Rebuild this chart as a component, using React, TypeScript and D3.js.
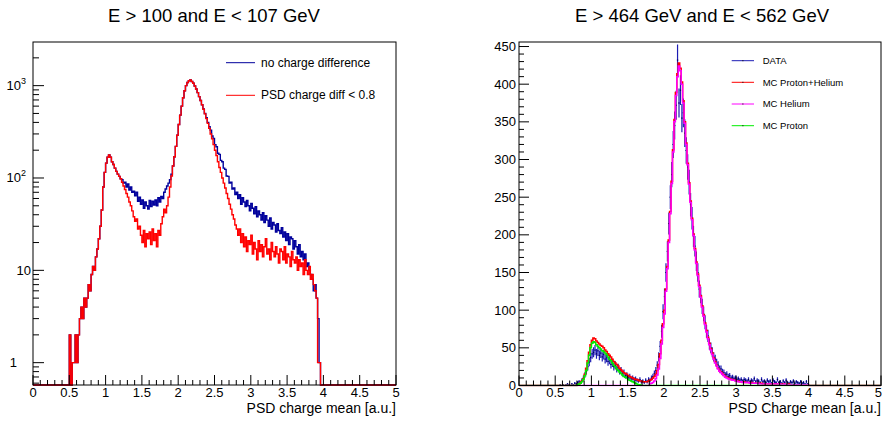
import React from "react";
import * as d3 from "d3";

// ---------- data (bin width 0.02) ----------
const BIN = 0.02;
const NBINS = 250; // 0..5

// Left panel: E > 100 and E < 107 GeV (log y)
const leftStart = 0.5;
// bins 0.50 .. 1.20 identical for both selections
const leftCommon = [2, 0, 1, 1, 2, 1, 2, 3, 4, 3, 5, 4, 5, 7, 6, 9, 11, 10, 14, 17, 22, 30, 45, 80, 115, 145, 168, 178, 168, 150, 140, 128, 118, 110, 104, 98];
// bins 1.22 .. 3.98
const noChargeDiffTail = [
  96, 88, 90, 80, 86, 74, 80, 70, 72, 64,
  70, 56, 62, 52, 58, 47, 55, 50, 46, 57,
  49, 56, 51, 58, 50, 61, 55, 63, 60, 70,
  76, 82, 88, 96, 110, 135, 170, 220, 290, 380,
  480, 600, 740, 880, 1000, 1080, 1130, 1150, 1110, 1060,
  990, 920, 840, 760, 690, 620, 560, 500, 450, 400,
  360, 330, 285, 268, 230, 218, 185, 180, 155, 150,
  128, 124, 105, 104, 88, 90, 76, 78, 66, 70,
  60, 66, 52, 61, 55, 49, 57, 50, 44, 53,
  47, 41, 49, 38, 44, 40, 35, 42, 33, 39,
  35, 30, 37, 28, 33, 31, 26, 32, 27, 25,
  29, 23, 26, 21, 25, 19, 23, 22, 17, 21,
  18, 15, 19, 14, 16, 13, 15, 11, 12, 10,
  9, 8, 6, 7, 5, 3, 1, 0, 0,
];
const psdDiffTail = [
  90, 82, 75, 68, 62, 55, 50, 44, 38, 34,
  36, 28, 30, 24, 20, 27, 18, 25, 22, 26,
  19, 28, 21, 25, 18, 27, 24, 32, 38, 46,
  42, 50, 62, 80, 105, 135, 170, 220, 290, 380,
  480, 600, 740, 880, 1000, 1080, 1130, 1150, 1110, 1060,
  990, 920, 840, 760, 690, 620, 555, 495, 440, 390,
  345, 300, 265, 230, 200, 175, 150, 130, 115, 100,
  88, 78, 68, 60, 52, 46, 40, 36, 31, 28,
  24, 28, 20, 25, 18, 23, 16, 21, 19, 24,
  15, 20, 17, 13, 21, 16, 19, 14, 18, 22,
  15, 17, 13, 20, 16, 14, 18, 15, 12, 17,
  16, 13, 18, 12, 15, 14, 11, 16, 13, 12,
  14, 10, 13, 11, 12, 9, 13, 10, 9, 11,
  8, 9, 7, 6, 5, 1, 1, 0, 0,
];

// Right panel: E > 464 GeV and E < 562 GeV (linear y)
const dataStart = 0.0;
const dataCounts = [
  0, 0, 0, 0, 0, 0, 0, 0, 0, 0,
  0, 0, 0, 0, 0, 0, 0, 0, 0, 0,
  0, 0, 0, 0, 0, 0, 0, 0, 1, 0,
  1, 0, 1, 2, 1, 0, 2, 1, 3, 2,
  4, 5, 4, 7, 10, 14, 19, 25, 31, 37,
  42, 44, 47, 42, 46, 40, 43, 38, 41, 35,
  37, 32, 34, 28, 30, 25, 27, 22, 24, 19,
  20, 16, 17, 13, 14, 11, 12, 9, 10, 8,
  9, 7, 6, 8, 5, 6, 4, 7, 5, 8,
  7, 10, 12, 16, 20, 27, 38, 52, 72, 98,
  118, 150, 178, 215, 250, 280, 320, 345, 372, 432,
  375, 392, 355, 362, 335, 312, 290, 270, 240, 222,
  198, 185, 165, 150, 128, 120, 105, 95, 84, 72,
  66, 55, 50, 44, 38, 35, 30, 27, 22, 22,
  18, 17, 14, 15, 12, 13, 10, 11, 9, 10,
  8, 9, 7, 8, 6, 8, 7, 6, 8, 5,
  7, 6, 9, 5, 7, 6, 4, 8, 5, 6,
  4, 7, 5, 6, 3, 7, 5, 4, 8, 4,
  5, 3, 6, 4, 7, 4, 3, 5, 4, 6,
  3, 5, 4, 3, 5, 3, 4, 2, 5, 2,
];
const mcSumStart = 0.8;
const mcProtonHelium = [
  1, 2, 4, 6, 9, 15, 23, 33, 44, 54,
  60, 63, 62, 59, 57, 55, 53, 52, 50, 47,
  45, 42, 40, 38, 35, 32, 30, 28, 26, 23,
  21, 19, 17, 16, 15, 13, 12, 11, 10, 9,
  8, 8, 7, 6, 6, 5, 5, 5, 5, 6,
  7, 8, 10, 12, 15, 20, 28, 42, 60, 82,
  100, 128, 158, 193, 231, 271, 313, 353, 389, 414,
  428, 421, 403, 378, 350, 322, 295, 269, 245, 222,
  201, 182, 164, 148, 133, 119, 106, 94, 83, 73,
  64, 56, 49, 43, 37, 32, 27, 23, 20, 18,
  16, 14, 12, 11, 10, 9, 8, 8, 7, 7,
  6, 6, 5, 5, 5, 5, 4, 4, 4, 4,
  4, 3, 3, 3, 3, 3, 3, 3, 2, 2,
  2, 2, 2, 2, 2, 2, 2, 2, 2, 2,
  2, 2, 1, 2, 1, 1, 2, 1, 1, 1,
  1, 1, 1, 1, 1, 1, 1, 1, 1, 1,
];
const mcHeliumStart = 1.8;
const mcHelium = [
  2, 3, 4, 6, 9, 14, 22, 36, 55, 77,
  95, 125, 155, 190, 228, 268, 310, 350, 385, 410,
  424, 418, 400, 375, 348, 320, 293, 267, 243, 220,
  199, 180, 162, 146, 131, 117, 104, 92, 81, 71,
  62, 54, 47, 41, 35, 30, 26, 22, 19, 17,
  15, 13, 11, 10, 9, 8, 8, 7, 7, 6,
  6, 5, 5, 5, 4, 4, 4, 4, 4, 3,
  3, 3, 3, 3, 3, 3, 2, 2, 2, 2,
  2, 2, 2, 2, 2, 2, 2, 2, 2, 2,
  2, 1, 1, 2, 1, 1, 1, 1, 1, 1,
  1, 1, 1, 1, 1, 1, 1, 1, 1, 1,
];
const mcProtonStart = 0.8;
const mcProton = [
  1, 2, 3, 5, 8, 13, 20, 30, 40, 50,
  56, 58, 57, 54, 52, 50, 48, 46, 45, 43,
  41, 38, 35, 33, 30, 27, 25, 22, 20, 18,
  16, 14, 12, 11, 10, 8, 7, 6, 5, 4,
  3, 2, 1, 1, 0, 0, 0, 0, 0, 0,
];

const xTickValues = [0, 0.5, 1, 1.5, 2, 2.5, 3, 3.5, 4, 4.5, 5];
const xTickLabels = ["0", "0.5", "1", "1.5", "2", "2.5", "3", "3.5", "4", "4.5", "5"];
const leftYTicks = [1, 10, 100, 1000];
const rightYTicks = [0, 50, 100, 150, 200, 250, 300, 350, 400, 450];

const leftTitle = "E > 100  and E < 107 GeV";
const rightTitle = "E > 464 GeV and E < 562 GeV";
const leftXTitle = "PSD charge mean [a.u.]";
const rightXTitle = "PSD Charge mean [a.u.]";
const leftLegend = ["no charge difference", "PSD charge diff < 0.8"];
const rightLegend = ["DATA", "MC Proton+Helium", "MC Helium", "MC Proton"];

// ---------- helpers ----------
function fullBins(start: number, vals: number[]): number[] {
  const out = new Array(NBINS).fill(0);
  const s = Math.round(start / BIN);
  vals.forEach((v, i) => {
    if (s + i < NBINS) out[s + i] = v;
  });
  return out;
}

const FONT = "'Liberation Sans', Arial, Helvetica, sans-serif";

const W = 882;
const H = 421;

const L = { x0: 33, x1: 396, y0: 42, y1: 385 };
const R = { x0: 519, x1: 881, y0: 42, y1: 385.5 };

function stepPath(vals: number[], xs: (v: number) => number, ys: (v: number) => number) {
  const pts: [number, number][] = [];
  vals.forEach((v, i) => {
    pts.push([xs(i * BIN), ys(v)]);
    pts.push([xs((i + 1) * BIN), ys(v)]);
  });
  return d3.line()(pts) || "";
}

function XAxis({ x, y1, clampRight }: { x: d3.ScaleLinear<number, number>; y1: number; clampRight?: boolean }) {
  const minor = d3.range(0, 51).map((i) => i / 10);
  return (
    <g>
      {minor.map((t, i) => (
        <line key={"m" + i} x1={x(t)} x2={x(t)} y1={y1} y2={y1 - (i % 5 === 0 ? 10 : 5)} stroke="#000" strokeWidth={1} />
      ))}
      {xTickValues.map((t, i) => {
        const last = clampRight && i === xTickValues.length - 1;
        return (
          <text
            key={"l" + i}
            x={last ? W : x(t)}
            y={y1 + 11.5}
            fontSize={13}
            fontFamily={FONT}
            textAnchor={last ? "end" : "middle"}
            fill="#000"
          >
            {xTickLabels[i]}
          </text>
        );
      })}
    </g>
  );
}

export default function App() {
  // scales
  const xL = d3.scaleLinear().domain([0, 5]).range([L.x0, L.x1]);
  const yL = d3.scaleLog().domain([0.573, 2970]).range([L.y1, L.y0]);
  const xR = d3.scaleLinear().domain([0, 5]).range([R.x0, R.x1]);
  const yR = d3.scaleLinear().domain([0, 456]).range([R.y1, R.y0]);

  const yLv = (v: number) => (v > 0 ? yL(v) : L.y1);

  const blue = fullBins(leftStart, [...leftCommon, ...noChargeDiffTail]);
  const red = fullBins(leftStart, [...leftCommon, ...psdDiffTail]);

  const data = fullBins(dataStart, dataCounts);
  const sum = fullBins(mcSumStart, mcProtonHelium);
  const he = fullBins(mcHeliumStart, mcHelium);
  const pr = fullBins(mcProtonStart, mcProton);

  // log minor ticks
  const logMinor: number[] = [];
  [0.1, 1, 10, 100, 1000].forEach((d) => {
    for (let k = 2; k <= 9; k++) {
      const v = d * k;
      if (v > 0.573 && v < 2970) logMinor.push(v);
    }
  });
  const rightMinor = d3.range(0, 456, 10);

  return (
    <svg width={W} height={H} style={{ position: "absolute", left: 0, top: 0, background: "#fff" }}>
      <defs>
        <clipPath id="clipL">
          <rect x={L.x0} y={L.y0} width={L.x1 - L.x0} height={L.y1 - L.y0 + 1} />
        </clipPath>
        <clipPath id="clipR">
          <rect x={R.x0} y={R.y0} width={R.x1 - R.x0} height={R.y1 - R.y0 + 1} />
        </clipPath>
      </defs>
      <rect x={0} y={0} width={W} height={H} fill="#fff" />

      {/* titles */}
      <text x={214} y={22} fontSize={18.5} fontFamily={FONT} textAnchor="middle">{leftTitle}</text>
      <text x={702} y={22} fontSize={18.5} fontFamily={FONT} textAnchor="middle">{rightTitle}</text>

      {/* ---------- LEFT PANEL ---------- */}
      <g clipPath="url(#clipL)">
        <path d={stepPath(blue, xL, yLv)} fill="none" stroke="#00009c" strokeWidth={1.4} />
        <path d={stepPath(red, xL, yLv)} fill="none" stroke="#ff0000" strokeWidth={1.4} />
      </g>
      <rect x={L.x0} y={L.y0} width={L.x1 - L.x0} height={L.y1 - L.y0} fill="none" stroke="#000" strokeWidth={1} />
      {logMinor.map((v, i) => (
        <line key={"lm" + i} x1={L.x0} x2={L.x0 + 6} y1={yL(v)} y2={yL(v)} stroke="#000" />
      ))}
      {leftYTicks.map((v, i) => (
        <line key={"lM" + i} x1={L.x0} x2={L.x0 + 11} y1={yL(v)} y2={yL(v)} stroke="#000" />
      ))}
      <text x={L.x0 - 16} y={yL(1) + 4.5} fontSize={13} fontFamily={FONT} textAnchor="end">1</text>
      <text x={L.x0 - 2} y={yL(10) + 4.5} fontSize={13} fontFamily={FONT} textAnchor="end">10</text>
      <text x={L.x0 - 7} y={yL(100) + 4.5} fontSize={13} fontFamily={FONT} textAnchor="end">
        10<tspan fontSize={9} dy={-6}>2</tspan>
      </text>
      <text x={L.x0 - 7} y={yL(1000) + 4.5} fontSize={13} fontFamily={FONT} textAnchor="end">
        10<tspan fontSize={9} dy={-6}>3</tspan>
      </text>
      <XAxis x={xL} y1={L.y1} />
      <text x={L.x1} y={413} fontSize={14} fontFamily={FONT} textAnchor="end">{leftXTitle}</text>

      {/* left legend */}
      <line x1={226} x2={255} y1={62.7} y2={62.7} stroke="#00009c" strokeWidth={1} />
      <text x={261} y={66.8} fontSize={12} fontFamily={FONT}>{leftLegend[0]}</text>
      <line x1={226} x2={255} y1={95.3} y2={95.3} stroke="#ff0000" strokeWidth={1} />
      <text x={261} y={99.4} fontSize={12} fontFamily={FONT}>{leftLegend[1]}</text>

      {/* ---------- RIGHT PANEL ---------- */}
      <g clipPath="url(#clipR)">
        {data.map((v, i) =>
          v > 0 ? (
            <g key={"d" + i}>
              <line
                x1={xR((i + 0.5) * BIN)}
                x2={xR((i + 0.5) * BIN)}
                y1={yR(v - Math.sqrt(v))}
                y2={yR(v + Math.sqrt(v))}
                stroke="#1c1cb4"
                strokeWidth={1.2}
              />
              <line x1={xR(i * BIN)} x2={xR((i + 1) * BIN)} y1={yR(v)} y2={yR(v)} stroke="#1c1cb4" strokeWidth={1} />
              <rect x={xR((i + 0.5) * BIN) - 0.5} y={yR(v) - 0.5} width={1} height={1} fill="#000040" />
            </g>
          ) : null
        )}
        <path d={stepPath(sum, xR, yR)} fill="none" stroke="#ff0000" strokeWidth={1.5} />
        <path d={stepPath(he, xR, yR)} fill="none" stroke="#ff00ff" strokeWidth={1.5} />
        <path d={stepPath(pr, xR, yR)} fill="none" stroke="#00ee00" strokeWidth={1.5} />
      </g>
      <rect x={R.x0} y={R.y0} width={R.x1 - R.x0} height={R.y1 - R.y0} fill="none" stroke="#000" strokeWidth={1} />
      {rightMinor.map((v, i) => (
        <line key={"rm" + i} x1={R.x0} x2={R.x0 + (v % 50 === 0 ? 10 : 5)} y1={yR(v)} y2={yR(v)} stroke="#000" />
      ))}
      {rightYTicks.map((v, i) => (
        <text key={"rl" + i} x={R.x0 - 3} y={yR(v) + 4.5} fontSize={13} fontFamily={FONT} textAnchor="end">
          {String(v)}
        </text>
      ))}
      <XAxis x={xR} y1={R.y1} clampRight />
      <text x={R.x1} y={413} fontSize={14} fontFamily={FONT} textAnchor="end">{rightXTitle}</text>

      {/* right legend */}
      {["#1c1cb4", "#ff0000", "#ff00ff", "#00ee00"].map((c, i) => {
        const yy = [60.7, 82.3, 104, 125.7][i];
        return (
          <g key={"rleg" + i}>
            <line x1={731.7} x2={754} y1={yy} y2={yy} stroke={c} strokeWidth={1} />
            <rect x={742.4} y={yy - 0.5} width={1} height={1} fill="#000" />
            <text x={762.7} y={yy + 3.4} fontSize={9.5} fontFamily={FONT}>{rightLegend[i]}</text>
          </g>
        );
      })}
    </svg>
  );
}
